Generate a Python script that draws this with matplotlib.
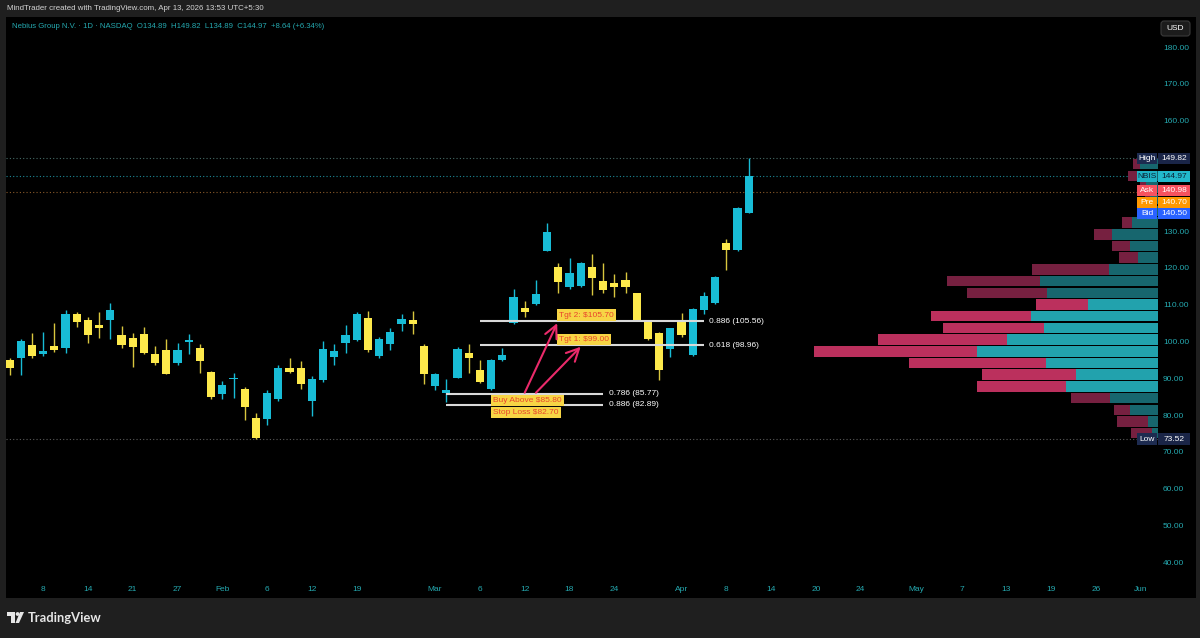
import matplotlib
matplotlib.use('Agg')
import matplotlib.pyplot as plt
import matplotlib.transforms as mtransforms
from matplotlib.patches import Rectangle, FancyBboxPatch, Polygon, Circle
import numpy as np
import pandas as pd

plt.rcParams['font.family'] = ['Liberation Sans', 'DejaVu Sans']

# Daily candles, Jan 5 - Apr 10 2026.
opens = [95.0, 95.6, 99.1, 96.6, 98.9, 98.3, 107.4, 105.9, 104.6, 105.9,
         101.8, 100.9, 102.1, 96.7, 97.6, 94.1, 99.8, 98.3, 91.7,
         85.7, 89.8, 87.1, 79.2, 79.0, 84.4, 92.8, 92.8, 83.9, 89.6,
         95.9, 99.6, 100.4, 106.5, 96.2, 99.3, 104.8, 105.9, 98.7,
         88.0, 86.0, 90.2, 96.8, 92.3, 87.1, 95.0, 105.0, 109.0, 110.2,
         124.7, 120.2, 114.8, 115.1, 120.3, 116.5, 116.0, 116.7, 113.1,
         105.7, 102.3, 97.9, 105.9, 96.3, 108.6, 110.4, 126.9, 124.9, 134.89]
highs = [95.5, 100.6, 102.4, 102.7, 105.0, 108.6, 108.0, 106.6, 108.0, 110.4,
         104.3, 102.4, 103.9, 98.9, 100.7, 99.7, 102.0, 99.3, 92.1,
         89.3, 91.4, 87.7, 80.7, 86.8, 93.6, 95.5, 94.8, 90.7, 100.2,
         99.3, 104.4, 108.0, 108.2, 101.2, 103.6, 107.4, 108.3, 99.3,
         91.4, 89.8, 98.6, 99.3, 95.0, 95.2, 98.3, 114.2, 111.0, 116.7,
         132.1, 121.4, 122.6, 121.6, 123.7, 121.3, 118.3, 118.9, 113.3,
         105.9, 102.5, 103.8, 107.9, 109.0, 113.6, 117.8, 127.8, 136.6, 149.82]
lows = [90.9, 90.9, 95.6, 96.2, 97.1, 96.8, 103.9, 99.5, 101.1, 100.7,
        98.3, 93.0, 96.6, 93.6, 91.1, 93.6, 96.5, 91.4, 84.3,
        84.3, 84.8, 78.6, 73.52, 77.3, 83.9, 91.5, 87.1, 79.8, 89.1,
        93.6, 97.0, 100.2, 97.2, 95.5, 97.7, 102.9, 102.1, 88.5,
        86.9, 83.7, 90.0, 91.5, 88.7, 86.8, 94.8, 104.8, 106.6, 110.0,
        124.5, 113.3, 114.3, 114.8, 112.7, 113.3, 112.0, 113.3, 105.5,
        100.5, 89.6, 95.9, 101.3, 96.0, 107.5, 110.2, 119.5, 124.6, 134.89]
closes = [92.7, 100.2, 96.1, 97.4, 97.7, 107.4, 105.3, 101.8, 103.8, 108.6,
          99.1, 98.6, 96.8, 94.3, 91.3, 97.7, 100.4, 94.8, 85.0,
          88.2, 90.1, 82.2, 73.7, 86.1, 92.8, 91.7, 88.5, 89.8, 98.0,
          97.4, 101.8, 107.6, 97.8, 100.6, 102.6, 106.1, 104.8, 91.1,
          91.1, 86.8, 97.9, 95.6, 89.1, 95.0, 96.4, 112.0, 108.0, 112.9,
          129.7, 116.1, 118.6, 121.4, 117.4, 114.0, 114.8, 114.9, 105.7,
          100.7, 92.3, 103.6, 101.8, 108.8, 112.5, 117.5, 124.9, 136.4, 144.97]

holidays = ['2026-01-19', '2026-02-16', '2026-04-03', '2026-05-25']
tick_dates = ['2026-01-08', '2026-01-14', '2026-01-21', '2026-01-27', '2026-02-02',
              '2026-02-06', '2026-02-12', '2026-02-19', '2026-03-02', '2026-03-06',
              '2026-03-12', '2026-03-18', '2026-03-24', '2026-04-01', '2026-04-08',
              '2026-04-14', '2026-04-20', '2026-04-24', '2026-05-01', '2026-05-07',
              '2026-05-13', '2026-05-19', '2026-05-26', '2026-06-01']
tick_labels = ['8', '14', '21', '27', 'Feb', '6', '12', '19', 'Mar', '6', '12', '18',
               '24', 'Apr', '8', '14', '20', '24', 'May', '7', '13', '19', '26', 'Jun']
# 140 and 150 sit under the price tags, so they are not shown
price_ticks = [40, 50, 60, 70, 80, 90, 100, 110, 120, 130, 160, 170, 180]

# Volume profile rows (bottom to top), up part and down part.
vp_low, vp_high = 73.52, 149.82
vp_up = [6, 10, 28, 48, 92, 82, 112, 181, 151, 114, 127, 70, 111, 118, 49, 20,
         28, 46, 26, 10, 8, 12, 18, 18]
vp_down = [21, 31, 16, 39, 89, 94, 137, 163, 129, 101, 100, 52, 80, 93, 77, 19,
           18, 18, 10, 6, 5, 6, 12, 7]
value_area = (4, 11)

# Fib levels: (label, price, start date, end date)
fib_levels = [('0.886 (105.56)', 105.56, '2026-03-06', '2026-04-06'),
              ('0.618 (98.96)', 98.96, '2026-03-06', '2026-04-06'),
              ('0.786 (85.77)', 85.77, '2026-03-03', '2026-03-23'),
              ('0.886 (82.89)', 82.89, '2026-03-03', '2026-03-23')]

UP, DOWN = '#18bcd6', '#fde94b'
TEAL_TXT = '#25a9b0'
FS = 6.0

days = pd.bdate_range('2026-01-05', '2026-06-30')
days = days[~days.isin(pd.to_datetime(holidays))]
pos = {d: i for i, d in enumerate(days)}
def ix(s):
    return pos[pd.Timestamp(s)]

W, H = 1200, 638
fig = plt.figure(figsize=(12, 6.38), dpi=100, facecolor='#1f1f1f')
fig.add_artist(Rectangle((6 / W, 1 - 598 / H), 1190 / W, 581 / H,
                         transform=fig.transFigure, facecolor='black',
                         edgecolor='none', zorder=-10))

# main price pane: px x 6..1158, y 20..578
ax = fig.add_axes([6 / W, 1 - 578 / H, 1152 / W, 558 / H])
ax.set_facecolor('black')
px_per_bar, px_per_unit = 11.2, 3.68
ax.set_xlim((6 - 9.5) / px_per_bar, (1158 - 9.5) / px_per_bar)
ax.set_ylim(70 - (578 - 452) / px_per_unit, 70 + (452 - 20) / px_per_unit)
for s in ax.spines.values():
    s.set_visible(False)

# candles
x = np.arange(len(opens))
o, h, l, c = map(np.array, (opens, highs, lows, closes))
up = c >= o
cols = np.where(up, UP, DOWN)
ax.vlines(x, l, h, colors=np.where(up, UP, '#d8c63e'), lw=1, zorder=3)
body = np.maximum(np.abs(c - o), 0.35)
ax.bar(x, body, bottom=np.minimum(o, c), width=0.72, color=cols, zorder=4)

# reference lines
ax.axhline(149.82, color='#466c68', lw=0.8, ls=(0, (1, 2)), zorder=1)
ax.axhline(144.97, color='#1d8c9a', lw=0.8, ls=(0, (1, 2)), zorder=1)
ax.axhline(140.70, color='#8a5a2a', lw=0.8, ls=(0, (1, 2)), zorder=1)
ax.axhline(73.52, color='#5a5a5a', lw=0.8, ls=(0, (1, 2)), zorder=1)

# fib levels
for lab, p, d0, d1 in fib_levels:
    ax.hlines(p, ix(d0), ix(d1), color='#d9d9d9', lw=1.5, zorder=5)
    ax.annotate(lab, (ix(d1), p), xytext=(4, 0), textcoords='offset points',
                color='white', fontsize=FS, va='center', ha='left', zorder=6)

# callouts
box = dict(boxstyle='square,pad=0.25', fc='#f7d545', ec='none')
callouts = [('Tgt 2: $105.70', 105.70, 48.9, 1.5, 'bottom'),
            ('Tgt 1: $99.00', 99.00, 48.9, 1.5, 'bottom'),
            ('Buy Above $85.80', 85.80, 43.0, -2.5, 'top'),
            ('Stop Loss $82.70', 82.70, 43.0, -2.5, 'top')]
for t, p, xi, dy, va in callouts:
    ax.annotate(t, (xi, p), xytext=(1.5, dy), textcoords='offset points',
                color='#e8452c', fontsize=FS, va=va, ha='left', bbox=box, zorder=7)

arrows = [((46.0, 86.1), (48.9, 105.0)), ((47.0, 86.1), (51.0, 98.6))]
for start, end in arrows:
    ax.annotate('', xy=end, xytext=start, zorder=8,
                arrowprops=dict(arrowstyle='->,head_length=0.9,head_width=0.45',
                                color='#ea2a6a', lw=1.5, shrinkA=0, shrinkB=0))

# axes ticks
ax.yaxis.tick_right()
ax.set_yticks(price_ticks)
ax.set_yticklabels([f'{v:.2f}' for v in price_ticks])
ax.set_xticks([ix(d) for d in tick_dates])
ax.set_xticklabels(tick_labels)
ax.tick_params(axis='y', length=0, pad=3.6, labelsize=FS, labelcolor=TEAL_TXT)
ax.tick_params(axis='x', length=0, pad=6, labelsize=FS, labelcolor=TEAL_TXT)

# volume profile
ax_vp = ax.twiny()
ax_vp.set_xlim(1152, 0)
ax_vp.set_xticks([])
for s in ax_vp.spines.values():
    s.set_visible(False)
row_h = (vp_high - vp_low) / len(vp_up)
rows_y = vp_low + row_h * (np.arange(len(vp_up)) + 0.5)
inside = (np.arange(len(vp_up)) >= value_area[0]) & (np.arange(len(vp_up)) <= value_area[1])
ax_vp.barh(rows_y, vp_up, height=row_h * 0.9,
           color=np.where(inside, '#22a2ad', '#17666e'), zorder=2)
ax_vp.barh(rows_y, vp_down, left=vp_up, height=row_h * 0.9,
           color=np.where(inside, '#bb305d', '#762040'), zorder=2)

# overlay: price tags, header, logo
ov = fig.add_axes([0, 0, 1, 1])
ov.set_xlim(0, W)
ov.set_ylim(H, 0)
ov.axis('off')
tr = mtransforms.blended_transform_factory(ov.transData, ax.transData)
bh = 11.2 / px_per_unit

def tag(p, name, value, bg, bg2, fg):
    ov.add_patch(Rectangle((1137, p - bh / 2), 20, bh, transform=tr, fc=bg, ec='none'))
    ov.add_patch(Rectangle((1158, p - bh / 2), 32, bh, transform=tr, fc=bg2, ec='none'))
    ov.text(1147, p, name, transform=tr, color=fg, fontsize=FS, ha='center', va='center')
    ov.text(1174, p, value, transform=tr, color=fg, fontsize=FS, ha='center', va='center')

tag(149.82, 'High', '149.82', '#1d2b50', '#1a2547', 'white')
tag(144.97, 'NBIS', '144.97', '#1fb3c6', '#22b9cc', '#0c2236')
tag(140.98, 'Ask', '140.98', '#f7525f', '#f7525f', 'white')
tag(140.98 - bh * 1.03, 'Pre', '140.70', '#ff9800', '#ff9800', 'white')
tag(140.98 - bh * 2.06, 'Bid', '140.50', '#2962ff', '#2962ff', 'white')
tag(73.52, 'Low', '73.52', '#1d2b50', '#1a2547', 'white')

ov.add_patch(FancyBboxPatch((1161, 21), 29, 15, boxstyle='round,pad=0,rounding_size=3',
                            fc='#1c1c1c', ec='#3a3a3a', lw=0.8))
ov.text(1175.5, 28.5, 'USD', color='white', fontsize=FS, ha='center', va='center')

ov.text(7, 9, 'MindTrader created with TradingView.com, Apr 13, 2026 13:53 UTC+5:30',
        color='#d4d4d4', fontsize=5.7, ha='left', va='center')
ov.text(12, 27, 'Nebius Group N.V. · 1D · NASDAQ  O134.89  H149.82  L134.89  C144.97  +8.64 (+6.34%)',
        color=TEAL_TXT, fontsize=5.6, ha='left', va='center')

# TradingView logo
ov.add_patch(Polygon([(7, 612), (15, 612), (15, 623), (11, 623), (11, 616), (7, 616)],
                     closed=True, fc='#e6e6e6', ec='none'))
ov.add_patch(Circle((17.6, 614), 1.9, fc='#e6e6e6', ec='none'))
ov.add_patch(Polygon([(20, 612), (24, 612), (19, 623), (15.5, 623)],
                     closed=True, fc='#e6e6e6', ec='none'))
ov.text(28, 617.5, 'TradingView', color='#e6e6e6', fontsize=9.3, fontweight='bold',
        family=['Lato', 'Liberation Sans'], ha='left', va='center')

fig.savefig('out.png', dpi=100, facecolor=fig.get_facecolor())
